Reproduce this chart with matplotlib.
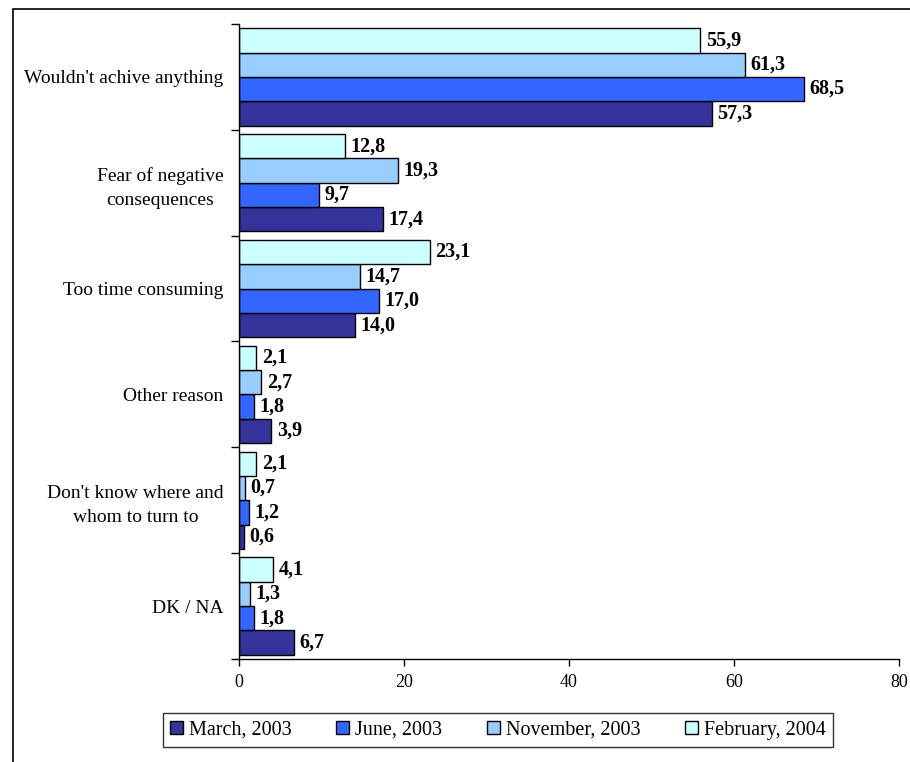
import matplotlib
matplotlib.use('Agg')
import matplotlib.pyplot as plt
from matplotlib.patches import Rectangle
import numpy as np

plt.rcParams['font.family'] = ['Liberation Serif', 'DejaVu Serif']

categories = ["Wouldn't achive anything", "Fear of negative\nconsequences",
              "Too time consuming", "Other reason",
              "Don't know where and\nwhom to turn to", "DK / NA"]
series = ["March, 2003", "June, 2003", "November, 2003", "February, 2004"]
march_2003 = [57.3, 17.4, 14.0, 3.9, 0.6, 6.7]
june_2003 = [68.5, 9.7, 17.0, 1.8, 1.2, 1.8]
november_2003 = [61.3, 19.3, 14.7, 2.7, 0.7, 1.3]
february_2004 = [55.9, 12.8, 23.1, 2.1, 2.1, 4.1]
colors = ['#333399', '#3366ff', '#99ccff', '#ccffff']

values = [march_2003, june_2003, november_2003, february_2004]

fig = plt.figure(figsize=(9.1, 7.62), dpi=100)
ax = fig.add_axes([239 / 910, 1 - 659 / 762, 660 / 910, 635 / 762])

n = len(categories)
ypos = np.arange(n)[::-1]  # first category on top
h = 0.23
offsets = [-1.5 * h, -0.5 * h, 0.5 * h, 1.5 * h]

for vals, col, off, name in zip(values, colors, offsets, series):
    bars = ax.barh(ypos + off, vals, height=h, color=col, edgecolor='black',
                   linewidth=1.0, label=name)
    for b, v in zip(bars, vals):
        ax.annotate(f'{v:.1f}'.replace('.', ','),
                    (b.get_width(), b.get_y() + b.get_height() / 2),
                    xytext=(4, 0), textcoords='offset points',
                    ha='left', va='center', fontsize=14.5, fontweight='bold')

ax.set_xlim(0, 80)
ax.set_ylim(-0.5, n - 0.5)
ax.set_xticks([0, 20, 40, 60, 80])
ax.tick_params(axis='x', labelsize=13, length=5, width=1, pad=6)

# category names between the group ticks
ax.set_yticks(ypos)
ax.set_yticklabels(categories, fontsize=14, multialignment='center',
                   linespacing=1.55)
ax.tick_params(axis='y', length=0, pad=11)
ax.set_yticks(np.arange(n + 1) - 0.5, minor=True)
ax.tick_params(axis='y', which='minor', length=6, width=1)

for s in ['top', 'right']:
    ax.spines[s].set_visible(False)
for s in ['left', 'bottom']:
    ax.spines[s].set_linewidth(1)

handles, labels = ax.get_legend_handles_labels()
leg = fig.legend(handles, labels, loc='center', ncol=4,
                 bbox_to_anchor=(498 / 910, 1 - 730 / 762),
                 fontsize=14.5, frameon=True, fancybox=False,
                 edgecolor='black', handlelength=0.65, handleheight=0.65,
                 handletextpad=0.3, columnspacing=2.2, borderpad=0.35)
leg.get_frame().set_linewidth(1)

# outer frame
fig.patches.append(Rectangle((13 / 910, -0.1), 1.0, 1 - 9 / 762 + 0.1,
                             transform=fig.transFigure, fill=False,
                             edgecolor='black', linewidth=1.2))

fig.savefig('out.png', dpi=100)
